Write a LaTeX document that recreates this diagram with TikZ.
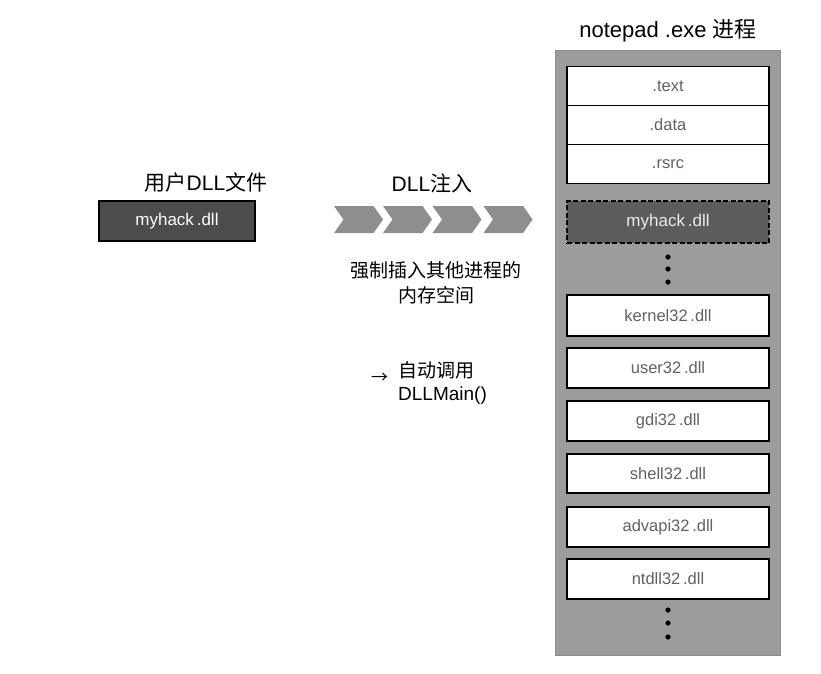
\documentclass[tikz,border=0pt]{standalone}
\usepackage{fontspec}
\setmainfont{Liberation Sans}
\newfontfamily\cjk{Noto Sans CJK SC}
\usetikzlibrary{shapes.symbols}

\definecolor{procgray}{HTML}{9C9C9C}
\definecolor{dllgray}{HTML}{4C4C4C}
\definecolor{injgray}{HTML}{5C5C5C}
\definecolor{chevgray}{HTML}{8E8E8E}
\definecolor{segtext}{HTML}{626262}

\begin{document}
\begin{tikzpicture}[x=1pt,y=-1pt,
  label/.style={font=\fontsize{21}{25}\selectfont,inner sep=0pt},
  seg/.style={draw=black,line width=1.6pt,fill=white,text=segtext,
    minimum width=202pt,minimum height=39pt,inner sep=0pt,
    font=\fontsize{16.5}{17}\selectfont},
  darkdll/.style={draw=black,line width=1.6pt,fill=dllgray,text=white,
    minimum width=156pt,minimum height=40pt,inner sep=0pt,
    font=\fontsize{17}{17}\selectfont},
  chev/.style={signal,signal from=west,signal to=east,signal pointer angle=110,
    fill=chevgray,draw=none,minimum width=49pt,minimum height=27pt,inner sep=0pt},
  ]
\useasboundingbox (0,0) rectangle (821,673);
%%
  % Node: proc
  \node[label,font=\fontsize{22}{26}\selectfont] (proc) at (668,31) {notepad .exe {\cjk 进程}};
  \fill[procgray,draw=black!45] (555,50) rectangle (780,655);
  % Node: text, data, rsrc
  \node[seg] (text) at (668,86) {.text};
  \node[seg] (data) at (668,125) {.data};
  \node[seg] (rsrc) at (668,164) {.rsrc};
  % Node: inj
  \node[seg,fill=injgray,text=white!92!black,dash pattern=on 5pt off 2.5pt,
    minimum height=42pt,font=\fontsize{17}{17}\selectfont] (inj) at (668,222) {myhack\,.dll};
  \fill (668,257) circle (2.6) (668,269) circle (2.6) (668,282) circle (2.6);
  % Node: dlls
  \node[seg,minimum height=41pt] (kernel) at (668,315.5) {kernel32\,.dll};
  \node[seg,minimum height=40pt] (user) at (668,368) {user32\,.dll};
  \node[seg,minimum height=40pt] (gdi) at (668,421) {gdi32\,.dll};
  \node[seg,minimum height=39pt] (shell) at (668,473.5) {shell32\,.dll};
  \node[seg,minimum height=40pt] (advapi) at (668,527) {advapi32\,.dll};
  \node[seg,minimum height=40pt] (ntdll) at (668,579) {ntdll32\,.dll};
  \fill (668,610) circle (2.6) (668,623) circle (2.6) (668,637) circle (2.6);
%%
  % Node: userdll
  \node[label] (userdll) at (206,183) {{\cjk 用户}DLL{\cjk 文件}};
  \node[darkdll] (myhack) at (177,221) {myhack\,.dll};
  % Node: injection
  \node[label] (injlabel) at (432,183) {DLL{\cjk 注入}};
  \node[chev] (c1) at (358.5,219.5) {};
  \node[chev] (c2) at (407.5,219.5) {};
  \node[chev] (c3) at (457,219.5) {};
  \node[chev] (c4) at (508,219.5) {};
  \node[label,font=\cjk\fontsize{19}{25}\selectfont,align=center] (force) at (436,283) {强制插入其他进程的\\内存空间};
  % Node: dllmain
  \node[label,anchor=west,font=\cjk\fontsize{17}{22}\selectfont] (arrow) at (371,378) {→};
  \node[label,anchor=north west,align=left,font=\fontsize{19}{23}\selectfont] (dllmain) at (398,361) {{\cjk 自动调用}\\DLLMain()};
%
\end{tikzpicture}
\end{document}
